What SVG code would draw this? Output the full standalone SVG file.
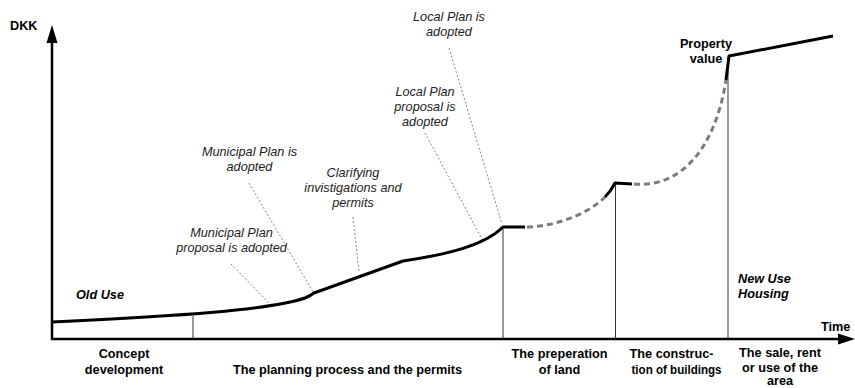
<svg xmlns="http://www.w3.org/2000/svg" width="855" height="388" viewBox="0 0 855 388">
<style>
text{font-family:"Liberation Sans",Arial,sans-serif;font-size:12.7px}
.b{font-weight:bold;fill:#000}
.bi{font-weight:bold;font-style:italic;fill:#000}
.i{font-style:italic;fill:#222}
.c{text-anchor:middle}
.axis{stroke:#000;stroke-width:2.5;fill:none}
.div{stroke:#333;stroke-width:1;fill:none}
.curve{stroke:#000;stroke-width:3;fill:none;stroke-linejoin:round}
.dash{stroke:#7a7d80;stroke-width:3;fill:none;stroke-dasharray:6 4}
.lead{stroke:#666;stroke-width:0.8;fill:none;stroke-dasharray:2 2}
</style>
<rect width="855" height="388" fill="#fff"/>
<g id="axes">
<line class="axis" x1="52" y1="340" x2="52" y2="40"/>
<polygon points="52,25 46.5,43 57.5,43" fill="#000"/>
<line class="axis" x1="51" y1="339" x2="840" y2="339"/>
<polygon points="855,339 838,333.5 838,344.5" fill="#000"/>
<text class="b" x="10" y="30">DKK</text>
<text class="b" x="821" y="331">Time</text>
</g>
<g id="connectors">
<line class="div" x1="193" y1="316" x2="193" y2="339"/>
<line class="div" x1="503" y1="227" x2="503" y2="339"/>
<line class="div" x1="615.5" y1="183" x2="615.5" y2="339"/>
<line class="div" x1="728" y1="57" x2="728" y2="339"/>
<line class="lead" x1="231" y1="264" x2="269" y2="303"/>
<line class="lead" x1="249" y1="183" x2="313" y2="292"/>
<line class="lead" x1="353" y1="217" x2="359" y2="272"/>
<line class="lead" x1="425" y1="133" x2="483" y2="241"/>
<line class="lead" x1="449" y1="48" x2="502" y2="224"/>
<path class="curve" d="M52,322 C180,316 270,310 305,298 Q310,296 314,293 L403,261 C450,254 485,245 503,227 L525,227"/>
<path class="dash" d="M527,227 C560,226 590,212 605,197"/>
<path class="curve" d="M605,197 Q611,191 615,183 L632,184"/>
<path class="dash" d="M634,184 C680,188 715,150 726,80"/>
<path class="curve" d="M726,80 L729,56 L833,36"/>
</g>
<g id="old-use"><text class="bi" x="76" y="298.5">Old Use</text></g>
<g id="new-use"><text class="bi" x="738" y="282.5">New Use</text><text class="bi" x="738" y="298">Housing</text></g>
<g id="property-value"><text class="b c" x="706" y="48">Property</text><text class="b c" x="706" y="63">value</text></g>
<g id="mp-proposal"><text class="i c" x="231.5" y="237">Municipal Plan</text><text class="i c" x="231.5" y="252">proposal is adopted</text></g>
<g id="mp-adopted"><text class="i c" x="249.5" y="156">Municipal Plan is</text><text class="i c" x="249.5" y="170.5">adopted</text></g>
<g id="clarifying"><text class="i c" x="353" y="177">Clarifying</text><text class="i c" x="353" y="192">invistigations and</text><text class="i c" x="353" y="207">permits</text></g>
<g id="lp-proposal"><text class="i c" x="425" y="96">Local Plan</text><text class="i c" x="425" y="111">proposal is</text><text class="i c" x="425" y="126">adopted</text></g>
<g id="lp-adopted"><text class="i c" x="449" y="21">Local Plan is</text><text class="i c" x="449" y="36">adopted</text></g>
<g id="phase-concept"><text class="b c" x="124" y="357.5">Concept</text><text class="b c" x="124" y="373.5">development</text></g>
<g id="phase-planning"><text class="b c" x="347.5" y="373.5">The planning process and the permits</text></g>
<g id="phase-land"><text class="b c" x="559.5" y="357.5">The preperation</text><text class="b c" x="559.5" y="373.5">of land</text></g>
<g id="phase-construction"><text class="b c" x="671.5" y="357.5">The construc-</text><text class="b c" x="676.5" y="373.5" textLength="90" lengthAdjust="spacingAndGlyphs">tion of buildings</text></g>
<g id="phase-sale"><text class="b c" x="780" y="357">The sale, rent</text><text class="b c" x="780" y="371.5">or use of the</text><text class="b c" x="780" y="385">area</text></g>
</svg>
